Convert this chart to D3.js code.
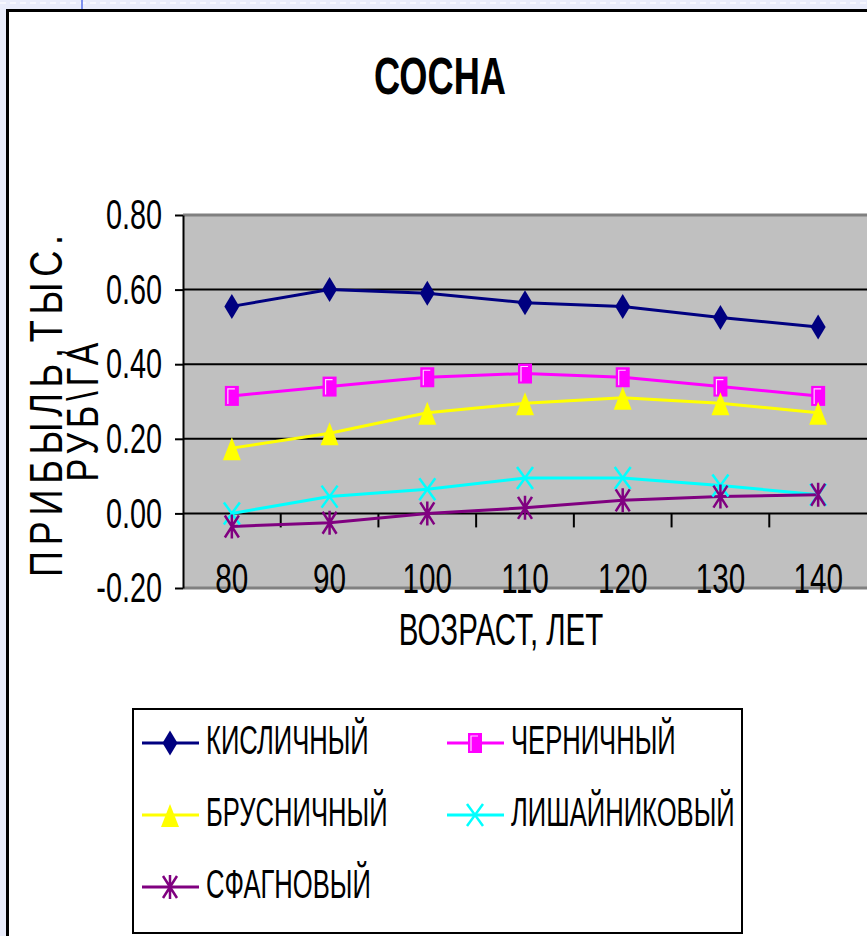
<!DOCTYPE html>
<html>
<head>
<meta charset="utf-8">
<script src="https://cdn.jsdelivr.net/npm/d3@7"></script>
<style>
body { margin: 0; background: #e9ecfb; overflow: hidden; }
text { font-family: "Liberation Sans", Arial, sans-serif; fill: #000; }
</style>
</head>
<body>
<svg id="chart" width="867" height="936"></svg>
<script>
// data
var ages = [80, 90, 100, 110, 120, 130, 140];
var kislichny = [0.555, 0.60, 0.59, 0.565, 0.555, 0.525, 0.50];
var chernichny = [0.315, 0.34, 0.365, 0.375, 0.365, 0.34, 0.315];
var brusnichny = [0.175, 0.215, 0.27, 0.295, 0.31, 0.295, 0.27];
var lishainikovy = [0.00, 0.045, 0.065, 0.095, 0.095, 0.075, 0.05];
var sfagnovy = [-0.035, -0.025, 0.00, 0.015, 0.035, 0.045, 0.05];

var seriesNames = ["КИСЛИЧНЫЙ", "ЧЕРНИЧНЫЙ", "БРУСНИЧНЫЙ", "ЛИШАЙНИКОВЫЙ", "СФАГНОВЫЙ"];
var seriesColors = ["#000080", "#ff00ff", "#ffff00", "#00ffff", "#800080"];
var seriesMarkers = ["diamond", "square", "triangle", "cross", "star"];
var yTicks = [-0.20, 0.00, 0.20, 0.40, 0.60, 0.80];
var gridTicks = [0.00, 0.20, 0.40, 0.60];

var series = [kislichny, chernichny, brusnichny, lishainikovy, sfagnovy].map(function(vals, i) {
    return { name: seriesNames[i], color: seriesColors[i], marker: seriesMarkers[i], values: vals };
});

var svg = d3.select("#chart");

// squash text horizontally like the old excel narrow font
function squeeze(sel, k) {
    sel.each(function() {
        var w = this.getComputedTextLength();
        d3.select(this).attr("textLength", w * k).attr("lengthAdjust", "spacingAndGlyphs");
    });
}

function drawMarker(g, type, color) {
    if (type == "diamond") {
        g.append("path").attr("d", "M0,-12.5L7.5,0L0,12.5L-7.5,0Z").attr("fill", color);
    } else if (type == "square") {
        g.append("rect").attr("x", -7).attr("y", -10).attr("width", 14).attr("height", 20).attr("fill", color);
        g.append("path").attr("d", "M-4,8V-7H3").attr("fill", "none")
            .attr("stroke", "#ffd6ff").attr("stroke-width", 1.2);
    } else if (type == "triangle") {
        g.append("path").attr("d", "M0,-11L9,12L-9,12Z").attr("fill", color);
    } else if (type == "cross") {
        g.append("path").attr("d", "M-8,-11L8,11M-8,11L8,-11")
            .attr("stroke", color).attr("stroke-width", 2.5).attr("fill", "none");
    } else {
        g.append("path").attr("d", "M-7,-11L7,11M-7,11L7,-11M0,-12V12")
            .attr("stroke", color).attr("stroke-width", 2.5).attr("fill", "none");
    }
}

// page bits: top strip and frame
svg.append("line").attr("x1", 0).attr("x2", 867).attr("y1", 3).attr("y2", 3)
    .attr("stroke", "#f6f7fe").attr("stroke-width", 2).attr("stroke-dasharray", "6,4");
svg.append("line").attr("x1", 82).attr("x2", 82).attr("y1", 0).attr("y2", 10)
    .attr("stroke", "#7d90ee").attr("stroke-width", 2);
svg.append("rect").attr("x", 7.5).attr("y", 10.5).attr("width", 1000).attr("height", 1000)
    .attr("fill", "#fff").attr("stroke", "#000").attr("stroke-width", 3);

var x = d3.scaleBand().domain(ages).range([183, 867]);
var y = d3.scaleLinear().domain([-0.2, 0.8]).range([588, 215]);

// plot area
svg.append("rect").attr("x", 183).attr("y", y(0.8)).attr("width", 867 - 183).attr("height", y(-0.2) - y(0.8))
    .attr("fill", "#c0c0c0");

svg.append("g").selectAll("line")
    .data(gridTicks)
    .enter()
    .append("line")
    .attr("x1", 183).attr("x2", 867)
    .attr("y1", d => y(d)).attr("y2", d => y(d))
    .attr("stroke", "#000").attr("stroke-width", 2);

svg.append("g").selectAll("line")
    .data([0.8, -0.2])
    .enter()
    .append("line")
    .attr("x1", 183).attr("x2", 867)
    .attr("y1", d => y(d)).attr("y2", d => y(d))
    .attr("stroke", "#808080").attr("stroke-width", 3);

// x tick marks between the categories
svg.append("g").selectAll("line")
    .data(ages.slice(1))
    .enter()
    .append("line")
    .attr("x1", d => x(d)).attr("x2", d => x(d))
    .attr("y1", y(0)).attr("y2", y(0) + 14)
    .attr("stroke", "#000").attr("stroke-width", 2);

// y axis
var yAxis = svg.append("g")
    .attr("transform", "translate(183,0)")
    .call(d3.axisLeft(y).tickValues(yTicks).tickFormat(d => d.toFixed(2)).tickSize(8).tickSizeOuter(0).tickPadding(13));
yAxis.select(".domain").attr("stroke", "#000").attr("stroke-width", 2);
yAxis.selectAll(".tick line").attr("stroke", "#000").attr("stroke-width", 2);
yAxis.selectAll("text").attr("font-size", 43).attr("font-family", null);
squeeze(yAxis.selectAll("text"), 0.67);

// x axis labels sit at the bottom of the plot
var xAxis = svg.append("g")
    .attr("transform", "translate(0," + y(0) + ")")
    .call(d3.axisBottom(x).tickSize(0).tickPadding(0));
xAxis.select(".domain").remove();
xAxis.selectAll("text")
    .attr("y", y(-0.2) - y(0) + 5)
    .attr("dy", 0)
    .attr("font-size", 43)
    .attr("font-family", null);
squeeze(xAxis.selectAll("text"), 0.69);

// series
var line = d3.line()
    .x((d, i) => x(ages[i]) + x.bandwidth() / 2)
    .y(d => y(d));

series.forEach(function(s) {
    svg.append("path")
        .datum(s.values)
        .attr("d", line)
        .attr("fill", "none")
        .attr("stroke", s.color)
        .attr("stroke-width", 3);
});

series.forEach(function(s) {
    svg.append("g").selectAll("g")
        .data(s.values)
        .enter()
        .append("g")
        .attr("transform", (d, i) => "translate(" + (x(ages[i]) + x.bandwidth() / 2) + "," + y(d) + ")")
        .each(function() { drawMarker(d3.select(this), s.marker, s.color); });
});

// titles
var title = svg.append("text")
    .attr("x", 440).attr("y", 94)
    .attr("text-anchor", "middle")
    .attr("font-size", 51)
    .attr("font-weight", "bold")
    .text("СОСНА");
squeeze(title, 0.71);

var xTitle = svg.append("text")
    .attr("x", 501).attr("y", 645)
    .attr("text-anchor", "middle")
    .attr("font-size", 44)
    .text("ВОЗРАСТ, ЛЕТ");
squeeze(xTitle, 0.67);

// y title: thin letters stretched tall, spread out
svg.append("text")
    .attr("transform", "translate(62,406) rotate(-90) scale(1,1.3)")
    .attr("text-anchor", "middle")
    .attr("font-size", 36)
    .attr("textLength", 342)
    .attr("lengthAdjust", "spacing")
    .text("ПРИБЫЛЬ,ТЫС.");

svg.append("text")
    .attr("transform", "translate(98,412) rotate(-90) scale(1,1.3)")
    .attr("text-anchor", "middle")
    .attr("font-size", 34)
    .attr("textLength", 139)
    .attr("lengthAdjust", "spacing")
    .text("РУБ\\ГА");

// legend
svg.append("rect")
    .attr("x", 133).attr("y", 709).attr("width", 609).attr("height", 224)
    .attr("fill", "#fff").attr("stroke", "#000").attr("stroke-width", 2);

var legendCols = [142, 447];
var legendRows = [743, 815, 887];

var items = svg.append("g").selectAll("g")
    .data(series)
    .enter()
    .append("g")
    .attr("transform", (d, i) => "translate(" + legendCols[i % 2] + "," + legendRows[Math.floor(i / 2)] + ")");

items.append("line")
    .attr("x1", 0).attr("x2", 57).attr("y1", 0).attr("y2", 0)
    .attr("stroke", d => d.color).attr("stroke-width", 3);

items.append("g")
    .attr("transform", "translate(28,0)")
    .each(function(d) { drawMarker(d3.select(this), d.marker, d.color); });

items.append("text")
    .attr("x", 64).attr("y", 11)
    .attr("font-size", 40)
    .text(d => d.name);
squeeze(items.selectAll("text"), 0.64);
</script>
</body>
</html>
